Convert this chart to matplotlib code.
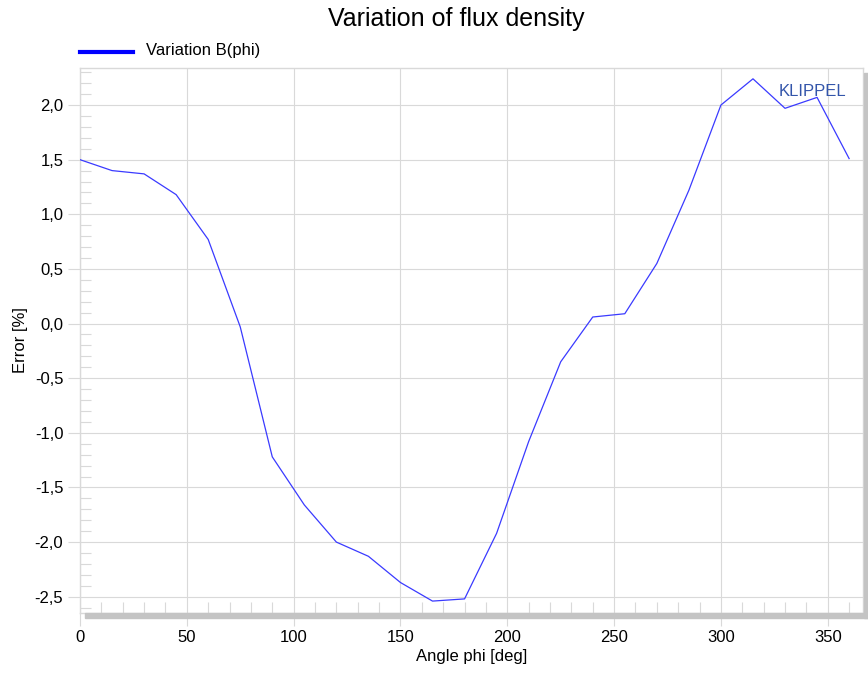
import matplotlib
matplotlib.use("Agg")
import matplotlib.pyplot as plt
from matplotlib.patches import Rectangle
from matplotlib.ticker import MultipleLocator, FuncFormatter

# angle phi [deg] and error [%]
phi = [0, 15, 30, 45, 60, 75, 90, 105, 120, 135, 150, 165, 180,
       195, 210, 225, 240, 255, 270, 285, 300, 315, 330, 345, 360]
err = [1.50, 1.40, 1.37, 1.18, 0.77, -0.03, -1.22, -1.66, -2.00, -2.13, -2.37, -2.54, -2.52,
       -1.92, -1.08, -0.35, 0.06, 0.09, 0.55, 1.22, 2.00, 2.24, 1.97, 2.07, 1.51]

plt.rcParams['font.family'] = ['Liberation Sans', 'DejaVu Sans']

W, H = 868, 673
fig = plt.figure(figsize=(W / 100, H / 100), dpi=100)
L, R, T, B = 80, 863, 68, 613
ax = fig.add_axes([L / W, 1 - B / H, (R - L) / W, (B - T) / H])

grid = '#d9d9d9'
ax.plot(phi, err, color='#3a3aff', lw=0.9, zorder=3)
ax.set_xlim(0, 366.5)
ax.set_ylim(-2.649, 2.339)

ax.xaxis.set_major_locator(MultipleLocator(50))
ax.xaxis.set_minor_locator(MultipleLocator(10))
ax.yaxis.set_major_locator(MultipleLocator(0.5))
ax.yaxis.set_minor_locator(MultipleLocator(0.1))
ax.yaxis.set_major_formatter(FuncFormatter(lambda v, p: f'{v:.1f}'.replace('.', ',').replace('-0,0', '0,0')))
ax.grid(True, which='major', color=grid, lw=0.8)
ax.tick_params(which='major', direction='out', length=9, color=grid, labelsize=12, pad=3)
ax.tick_params(which='minor', direction='in', length=8, color=grid, width=0.8)
for s in ax.spines.values():
    s.set_color(grid)
    s.set_linewidth(1)

ax.set_xlabel('Angle phi [deg]', fontsize=12, labelpad=3)
ax.set_ylabel('Error [%]', fontsize=12, labelpad=5)

# drop shadow of the plot frame
fig.patches.append(Rectangle((85 / W, 1 - 618 / H), (868 - 85) / W, 5 / H,
                             transform=fig.transFigure, color='#c4c4c4', zorder=5))
fig.patches.append(Rectangle((864 / W, 1 - 618 / H), 4 / W, (618 - 73) / H,
                             transform=fig.transFigure, color='#c4c4c4', zorder=5))

fig.text(456 / W, 1 - 19 / H, 'Variation of flux density', fontsize=18, ha='center', va='center')
fig.lines.append(plt.Line2D([80 / W, 133 / W], [1 - 52 / H, 1 - 52 / H],
                            transform=fig.transFigure, color='#0000ff', lw=3))
fig.text(146 / W, 1 - 51 / H, 'Variation B(phi)', fontsize=12, va='center')
ax.text(779 / W, 1 - 92 / H, 'KLIPPEL', transform=fig.transFigure, fontsize=12,
        color='#3355aa', va='center')

fig.savefig('out.png', dpi=100)
